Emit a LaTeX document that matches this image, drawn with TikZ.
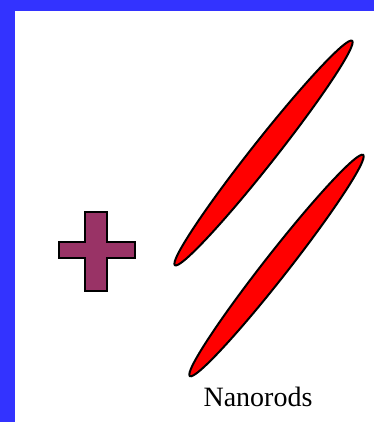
\documentclass[tikz,border=0pt]{standalone}
\usepackage{fontspec}
\setmainfont{Liberation Serif}
\definecolor{frameblue}{HTML}{3333FF}
\definecolor{plumcol}{HTML}{993366}
\definecolor{rodred}{HTML}{FF0000}
\tikzset{
  rod/.style={draw=black, line width=2pt, fill=rodred},
  plusshape/.style={draw=black, line width=1.5pt, fill=plumcol},
}
\begin{document}
\begin{tikzpicture}[x=1pt,y=1pt]
\useasboundingbox (0,0) rectangle (374,422);
\fill[frameblue] (0,0) rectangle (374,422);
\fill[white] (15,0) rectangle (374,411);
% plus sign (pixel coords converted: y = 422 - ypx)
\draw[plusshape] (85,131) -- (85,164) -- (59,164) -- (59,180) -- (85,180) -- (85,210)
  -- (107,210) -- (107,180) -- (135,180) -- (135,164) -- (107,164) -- (107,131) -- cycle;
% rods
\draw[rod] (263.5,269) ellipse[x radius=143, y radius=12, rotate=51.7];
\draw[rod] (276.5,156.5) ellipse[x radius=140.5, y radius=12, rotate=51.9];
\node[font=\fontsize{28}{30}\selectfont, anchor=base] (lbl) at (258,15) {Nanorods};
\end{tikzpicture}
\end{document}
